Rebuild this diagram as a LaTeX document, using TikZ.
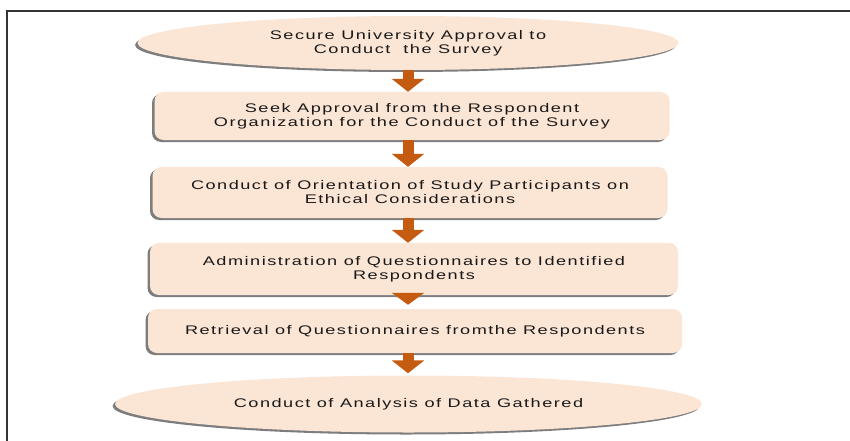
\documentclass[tikz,border=0pt]{standalone}
\usepackage{fontspec}
\setmainfont{Liberation Sans}[FakeStretch=1.45, LetterSpace=12]
\usetikzlibrary{shapes.geometric,shadows,arrows.meta}
\definecolor{peach}{RGB}{251,229,213}
\definecolor{arrowc}{RGB}{197,90,17}
\definecolor{txt}{RGB}{25,25,25}
\begin{document}
\begin{tikzpicture}[x=1pt,y=-1pt,
  stage/.style={fill=peach, text=txt, align=center,
    font=\fontsize{12.5}{14}\selectfont, inner sep=0pt,
    drop shadow={shadow xshift=-2.5pt, shadow yshift=-2pt, fill=black!60, opacity=0.85}},
  oval/.style={stage, ellipse},
  stepbox/.style={stage, rectangle, rounded corners=9pt},
  flow/.style={draw=arrowc, line width=11pt, -{Triangle[width=32pt,length=13pt]}}
]
\useasboundingbox (0,0) rectangle (850,441);
\draw[line width=1.3pt, black!80] (7,441) -- (7,11) -- (850,11);

\node[oval, minimum width=541pt, minimum height=54pt] (s1) at (408,43)
  {Secure University Approval to\\Conduct\ \ the Survey};
\node[stepbox, minimum width=515pt, minimum height=48pt] (s2) at (412,116)
  {Seek Approval from the Respondent\\Organization for the Conduct of the Survey};
\node[stepbox, minimum width=515pt, minimum height=51pt] (s3) at (410,192.5)
  {Conduct of Orientation of Study Participants on\\Ethical Considerations};
\node[stepbox, minimum width=528pt, minimum height=52pt] (s4) at (414,269)
  {Administration of Questionnaires to Identified\\Respondents};
\node[stepbox, minimum width=534pt, minimum height=44pt] (s5) at (415,331)
  {Retrieval of Questionnaires fromthe Respondents};
\node[oval, minimum width=587pt, minimum height=57pt] (s6) at (408.5,404)
  {Conduct of Analysis of Data Gathered};

\coordinate (ax) at (408,0);
\draw[flow] (s1.south -| ax) -- (s2.north -| ax);
\draw[flow] (s2.south -| ax) -- (s3.north -| ax);
\draw[flow] (s3.south -| ax) -- (s4.north -| ax);
\draw[flow, -{Triangle[width=32pt,length=12pt]}] ([yshift=-1pt]s4.south -| ax) -- ([yshift=4pt]s5.north -| ax);
\draw[flow] (s5.south -| ax) -- ([yshift=2pt]s6.north -| ax);
\end{tikzpicture}
\end{document}
